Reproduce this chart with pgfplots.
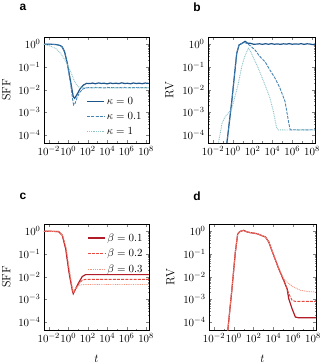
\documentclass[border=0pt]{standalone}
\usepackage{fontspec}
\usepackage{pgfplots}
\pgfplotsset{compat=1.18}
\newfontfamily\panelfont{Liberation Sans}
\definecolor{bA}{RGB}{30,86,140}
\definecolor{bB}{RGB}{70,132,180}
\definecolor{bC}{RGB}{140,196,200}
\definecolor{rA}{RGB}{178,28,40}
\definecolor{rB}{RGB}{228,72,62}
\definecolor{rC}{RGB}{246,150,130}
\tikzset{
  s1/.style={line width=1.2pt},
  s2/.style={line width=0.9pt, dash pattern=on 3pt off 1.2pt},
  s3/.style={line width=0.9pt, dash pattern=on 0.9pt off 0.9pt},
}
\pgfplotsset{
  every axis/.append style={
    scale only axis,
    height=106bp,
    xmin=3.16e-3, xmax=2e8, ymin=4.47e-5, ymax=2.09,
    xtick={1e-2,1,1e2,1e4,1e6,1e8},
    minor xtick={1e-1,1e1,1e3,1e5,1e7},
    ytick={1e-4,1e-3,1e-2,1e-1,1},
    tick align=inside, major tick length=3bp, minor tick length=1.5bp,
    tick label style={font=\fontsize{11}{11}\selectfont},
    xticklabel style={inner xsep=0pt},
    label style={font=\fontsize{12}{12}\selectfont},
    axis line style={line width=0.7pt},
    legend style={draw=none, fill=none, font=\fontsize{11}{11}\selectfont, inner sep=1pt, row sep=2.5pt},
    legend cell align=left,
    ylabel style={at={(axis description cs:-0.36,0.5)}, anchor=center},
    xlabel style={at={(axis description cs:0.5,-0.27)}, anchor=center},
  },
}
\begin{document}
\begin{tikzpicture}
\useasboundingbox (0bp,0bp) rectangle (323bp,364bp);
\node[font=\panelfont\bfseries\fontsize{12}{12}\selectfont] at (23bp,357bp) {a};
\node[font=\panelfont\bfseries\fontsize{12}{12}\selectfont] at (197bp,357bp) {b};
\node[font=\panelfont\bfseries\fontsize{12}{12}\selectfont] at (23bp,168bp) {c};
\node[font=\panelfont\bfseries\fontsize{12}{12}\selectfont] at (197bp,168bp) {d};

% ---------------- a ----------------
\begin{loglogaxis}[width=105bp, at={(44bp,221bp)}, anchor=south west,
  ylabel={SFF},
  legend style={at={(0.96,0.04)}, anchor=south east}]
\addplot[bA, s1] coordinates {
(3.16e-3,1.0) (0.0316,0.99) (0.074,0.955) (0.158,0.87) (0.24,0.76) (0.417,0.468)
(0.794,0.145) (1.74,0.0224) (3.24,4.9e-3) (4.47,4.17e-3) (7.24,5.75e-3) (15.8,0.0107)
(34.7,0.0158) (75.9,0.019) (158,0.0185) (316,0.0195) (631,0.0182) (1259,0.0198)
(2512,0.0188) (5012,0.0192) (1e4,0.018) (2e4,0.0196) (3.98e4,0.0186) (7.94e4,0.0193)
(1.58e5,0.0184) (3.16e5,0.02) (6.31e5,0.0187) (1.26e6,0.0191) (2.51e6,0.0182)
(5.01e6,0.0197) (1e7,0.0186) (2e7,0.0194) (3.98e7,0.0183) (7.94e7,0.0196) (2e8,0.0188)};
\addlegendentry{$\kappa=0$}
\addplot[bB, s2] coordinates {
(3.16e-3,1.0) (0.0316,0.99) (0.074,0.95) (0.158,0.85) (0.24,0.74) (0.417,0.44)
(0.794,0.132) (1.74,0.0178) (2.82,3.55e-3) (3.55,2.1e-3) (5.01,2.5e-3) (7.94,4.47e-3)
(15.8,7.94e-3) (31.6,0.0107) (63.1,0.012) (158,0.0125) (316,0.0121) (631,0.0126)
(1259,0.0122) (2512,0.0124) (5012,0.012) (1e4,0.0126) (2e4,0.0122) (3.98e4,0.0125)
(7.94e4,0.0121) (1.58e5,0.0124) (3.16e5,0.0122) (6.31e5,0.0126) (1.26e6,0.0121)
(2.51e6,0.0124) (5.01e6,0.0122) (1e7,0.0125) (2e7,0.0121) (3.98e7,0.0124) (7.94e7,0.0122) (2e8,0.0124)};
\addlegendentry{$\kappa=0.1$}
\addplot[bC, s3] coordinates {
(3.16e-3,1.0) (0.0151,0.83) (0.05,0.66) (0.162,0.40) (0.537,0.182) (1.74,0.0617)
(4.47,0.0224) (9.77,0.0135) (27.5,0.0123) (100,0.0119) (1e3,0.0121) (1e4,0.0118)
(1e5,0.012) (1e6,0.0119) (1e7,0.0121) (2e8,0.0119)};
\addlegendentry{$\kappa=1$}
\end{loglogaxis}

% ---------------- b ----------------
\begin{loglogaxis}[width=107bp, at={(208bp,221bp)}, anchor=south west,
  ylabel={RV}]
\addplot[bA, s1] coordinates {
(0.23,3e-5) (0.79,3e-3) (2.51,0.4) (4.27,0.93) (8,1.08) (17.4,1.35)
(31.6,1.12) (60.3,1.1) (126,1.0) (282,1.02) (500,1.05) (1000,0.99) (2000,1.06)
(4000,1.0) (8000,1.07) (1.6e4,1.0) (3.2e4,1.04) (6.4e4,0.99) (1.3e5,1.05) (2.6e5,1.01)
(5e5,1.07) (1e6,1.0) (2e6,1.04) (4e6,1.01) (8e6,1.06) (1.6e7,0.99) (3.2e7,1.05)
(6.4e7,1.02) (1.3e8,0.96) (2e8,1.03)};
\addplot[bB, s2] coordinates {
(0.23,3e-5) (0.79,3e-3) (2.51,0.4) (4.27,0.92) (8,1.08) (14.1,1.2)
(25,1.1) (60,0.85) (178,0.56) (500,0.3) (1820,0.17) (6000,0.07)
(1.86e4,0.032) (5.9e4,0.0115) (1.9e5,3.0e-3) (4.2e5,4e-4) (6e5,1.8e-4) (7e5,1.7e-4)
(2e6,1.72e-4) (5e6,1.67e-4) (1e7,1.71e-4) (3e7,1.68e-4) (1e8,1.72e-4) (2e8,1.69e-4)};
\addplot[bC, s3] coordinates {
(0.03,3e-5) (0.083,3.3e-4) (0.166,6.3e-4) (0.79,1.45e-3) (3.6,0.018) (7.9,0.1)
(17.4,0.32) (37,0.66) (60,0.5) (380,0.087) (1820,0.016) (5750,4.2e-3)
(1.26e4,1.1e-3) (2.75e4,2.0e-4) (4e4,1.7e-4) (2e5,1.68e-4)
(1e6,1.66e-4) (1e7,1.69e-4) (2e8,1.67e-4)};
\end{loglogaxis}

% ---------------- c ----------------
\begin{loglogaxis}[width=105bp, at={(44bp,34bp)}, anchor=south west,
  ylabel={SFF}, xlabel={$t$},
  legend style={at={(0.97,0.94)}, anchor=north east}]
\addplot[rA, s1] coordinates {
(3.16e-3,1.0) (0.0316,0.99) (0.1,0.97) (0.24,0.66) (0.537,0.17) (1.17,0.0158)
(2.57,2.5e-3) (3.24,1.78e-3) (5.62,2.95e-3) (12.6,5.75e-3) (27.5,0.0102) (60.3,0.0123)
(1e3,0.0123) (1e5,0.0123) (2e8,0.0123)};
\addlegendentry{$\beta=0.1$}
\addplot[rB, s2] coordinates {
(3.16e-3,1.0) (0.0316,0.99) (0.1,0.96) (0.26,0.64) (0.58,0.17) (1.26,0.016)
(2.63,2.6e-3) (3.3,1.85e-3) (5.6,2.8e-3) (12.6,5.0e-3) (27.5,7.0e-3) (60,7.6e-3)
(1e3,7.6e-3) (1e5,7.6e-3) (2e8,7.6e-3)};
\addlegendentry{$\beta=0.2$}
\addplot[rC, s3] coordinates {
(3.16e-3,1.0) (0.0316,0.98) (0.1,0.95) (0.28,0.62) (0.63,0.17) (1.35,0.018)
(2.7,3.0e-3) (3.4,2.2e-3) (5.6,3.0e-3) (10,3.9e-3) (20,4.4e-3) (50,4.5e-3)
(1e3,4.5e-3) (1e5,4.5e-3) (2e8,4.5e-3)};
\addlegendentry{$\beta=0.3$}
\end{loglogaxis}

% ---------------- d ----------------
\begin{loglogaxis}[width=107bp, at={(209bp,34bp)}, anchor=south west,
  ylabel={RV}, xlabel={$t$}]
\addplot[rA, s1] coordinates {
(0.23,3e-5) (0.66,2.95e-3) (1.45,0.123) (2.51,0.78) (4.68,1.0) (10,1.1) (20,0.95)
(46.8,0.87) (224,0.78) (1550,0.56) (3390,0.34) (1.07e4,0.087) (3.47e4,0.0224)
(1.1e5,6.9e-3) (2.4e5,2.95e-3) (3.55e5,1.07e-3) (7.6e5,3.9e-4) (1.66e6,1.66e-4)
(3.6e6,1.55e-4) (1e7,1.55e-4) (1e8,1.55e-4) (2e8,1.55e-4)};
\addplot[rB, s2] coordinates {
(0.23,3e-5) (0.66,2.95e-3) (1.45,0.123) (2.51,0.78) (4.68,1.0) (10,1.1) (20,0.95)
(46.8,0.87) (224,0.78) (1550,0.56) (3390,0.34) (1.07e4,0.087) (3.47e4,0.0224)
(1.1e5,6.9e-3) (2.4e5,2.95e-3) (3.55e5,1.8e-3) (7.6e5,9.1e-4) (1.66e6,8.1e-4)
(1e7,8.1e-4) (1e8,8.1e-4) (2e8,8.1e-4)};
\addplot[rC, s3] coordinates {
(0.23,3e-5) (0.66,2.95e-3) (1.45,0.123) (2.51,0.8) (4.68,1.02) (10,1.12) (20,0.97)
(46.8,0.88) (224,0.79) (1550,0.57) (3390,0.35) (1.07e4,0.09) (3.47e4,0.024)
(1.1e5,8e-3) (1.6e5,6.9e-3) (3.55e5,4.9e-3) (1.12e6,3.47e-3) (5.4e6,2.5e-3)
(2.5e7,2.24e-3) (2e8,2.1e-3)};
\end{loglogaxis}
\end{tikzpicture}
\end{document}
